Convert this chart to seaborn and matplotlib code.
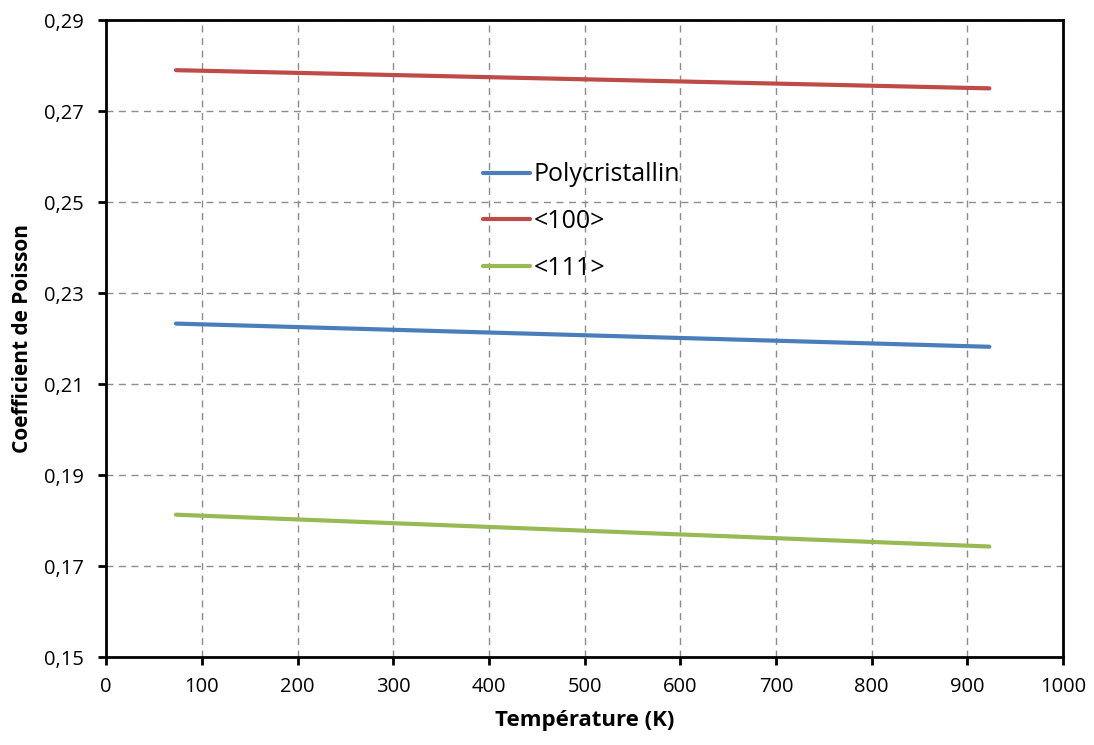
import numpy as np
import pandas as pd
import matplotlib
matplotlib.use("Agg")
import matplotlib.pyplot as plt
import seaborn as sns
from matplotlib.ticker import FuncFormatter, MultipleLocator, FixedLocator

# données
temperature = [73, 923]
poly = [0.2233, 0.2182]
dir100 = [0.2790, 0.2750]
dir111 = [0.1813, 0.1743]
series_names = ["Polycristallin", "<100>", "<111>"]
colors = ["#4A7EBB", "#BE4B48", "#98B954"]
y_ticks = [0.15, 0.17, 0.19, 0.21, 0.23, 0.25, 0.27, 0.29]

df = pd.concat([
    pd.DataFrame({"T": temperature, "nu": poly, "serie": series_names[0]}),
    pd.DataFrame({"T": temperature, "nu": dir100, "serie": series_names[1]}),
    pd.DataFrame({"T": temperature, "nu": dir111, "serie": series_names[2]}),
])

sns.set_style("white")
plt.rcParams["font.family"] = ["Open Sans", "DejaVu Sans"]
plt.rcParams["text.color"] = "black"
plt.rcParams["xtick.color"] = "black"
plt.rcParams["ytick.color"] = "black"
plt.rcParams["axes.labelcolor"] = "black"

fig = plt.figure(figsize=(10.94, 7.45), dpi=100)
ax = fig.add_axes([0.097, 0.118, 0.8747, 0.855])

sns.lineplot(data=df, x="T", y="nu", hue="serie", palette=colors,
             hue_order=series_names, linewidth=3, ax=ax)

ax.set_xlim(0, 1000)
ax.set_ylim(0.15, 0.29)
ax.xaxis.set_major_locator(MultipleLocator(100))
ax.yaxis.set_major_locator(FixedLocator(y_ticks))
ax.yaxis.set_major_formatter(FuncFormatter(lambda v, p: f"{v:.2f}".replace(".", ",")))
ax.grid(True, linestyle=(0, (5, 4)), color="#8c8c8c", linewidth=1)
for s in ax.spines.values():
    s.set_color("black")
    s.set_linewidth(2)
ax.tick_params(axis="both", direction="out", length=6, width=2, labelsize=14.5,
               left=True, bottom=True, pad=8)
ax.tick_params(axis="y", pad=10)

ax.set_xlabel("Température (K)", fontsize=16, fontweight="bold", labelpad=10)
ax.set_ylabel("Coefficient de Poisson", fontsize=15, fontweight="bold", labelpad=8)

ax.legend(title=None, frameon=False, fontsize=18, handlelength=1.9,
          handletextpad=0.15, labelspacing=0.87,
          loc="upper left", bbox_to_anchor=(0.37, 0.812))

fig.savefig("out.png", dpi=100)
